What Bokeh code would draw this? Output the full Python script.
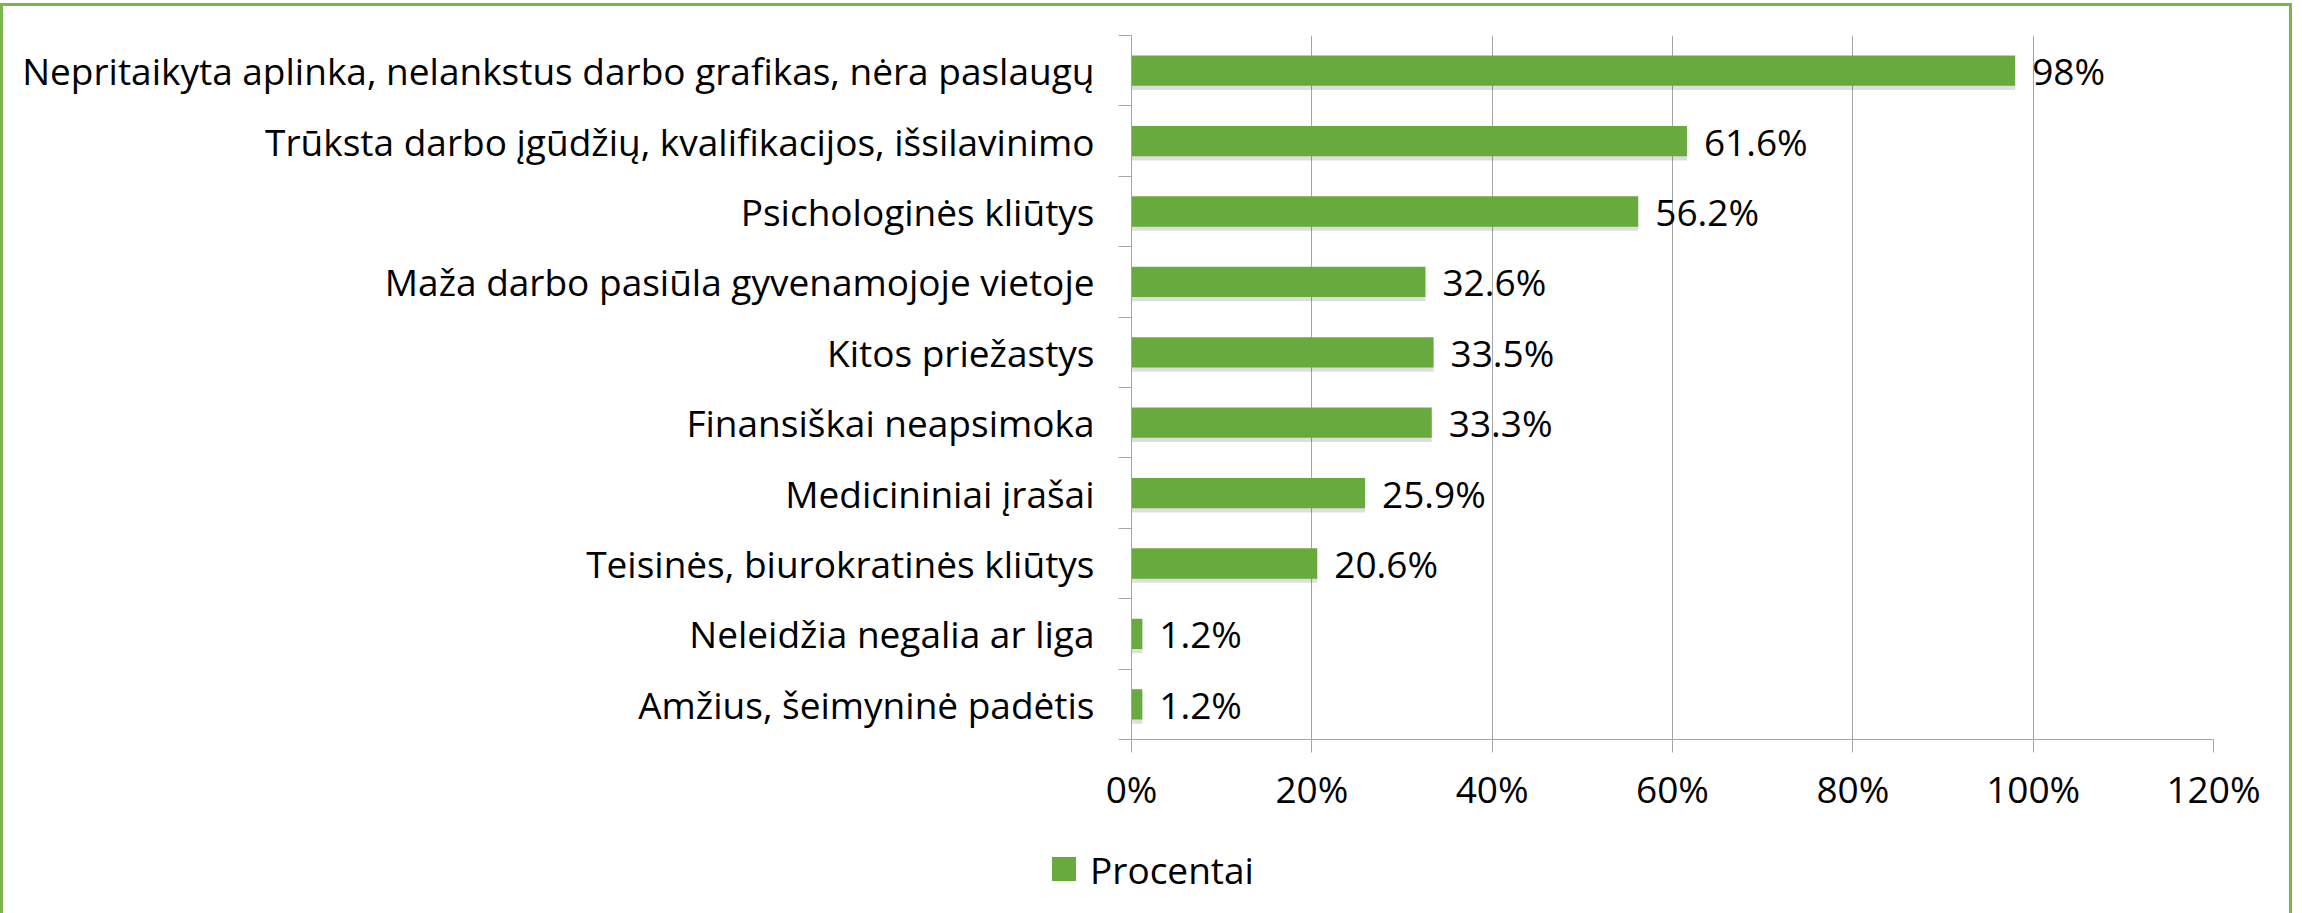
from bokeh.plotting import figure
from bokeh.layouts import column
from bokeh.models import (Range1d, FixedTicker, PrintfTickFormatter, ColumnDataSource, Dodge, Div)
from bokeh.core.properties import value
from bokeh.embed import file_html
from bokeh.resources import INLINE

categories = [
    "Nepritaikyta aplinka, nelankstus darbo grafikas, nėra paslaugų",
    "Trūksta darbo įgūdžių, kvalifikacijos, išsilavinimo",
    "Psichologinės kliūtys",
    "Maža darbo pasiūla gyvenamojoje vietoje",
    "Kitos priežastys",
    "Finansiškai neapsimoka",
    "Medicininiai įrašai",
    "Teisinės, biurokratinės kliūtys",
    "Neleidžia negalia ar liga",
    "Amžius, šeimyninė padėtis",
]
values = [98, 61.6, 56.2, 32.6, 33.5, 33.3, 25.9, 20.6, 1.2, 1.2]
x_ticks = [0, 20, 40, 60, 80, 100, 120]
series_name = "Procentai"

FONT = "Open Sans"
FS = "37px"
GRID = "#a6a6a6"
GREEN = "#69aa3f"
BORDER = "3px solid #7ab54e"
W = 2286
LEG_H = 87

n = len(categories)
ypos = [n - 0.5 - i for i in range(n)]
labels = [f"{v:g}%" for v in values]
src = ColumnDataSource(dict(y=ypos, v=values, lab=labels))

p = figure(width=W, height=820, x_range=Range1d(0, 120), y_range=Range1d(0, n),
           output_backend="svg", toolbar_location=None,
           min_border_left=1128, min_border_right=76, min_border_top=29, min_border_bottom=87)
p.outline_line_color = None
p.background_fill_color = "white"
p.border_fill_color = "white"

# soft shadow under bars
p.hbar(y={"field": "y", "transform": Dodge(value=-0.06)}, right="v", left=0,
       height=0.43, source=src, fill_color="black", fill_alpha=0.13, line_color=None)

bars = p.hbar(y="y", right="v", left=0, height=0.43, source=src,
              fill_color=GREEN, line_color=None)

p.text(x="v", y="y", text="lab", source=src, x_offset=17, text_baseline="middle",
       text_align="left", text_font=value(FONT), text_font_size=FS, text_color="black")

# x axis
p.xaxis.ticker = FixedTicker(ticks=x_ticks)
p.xaxis.formatter = PrintfTickFormatter(format="%d%%")
p.xaxis.axis_line_color = GRID
p.xaxis.major_tick_line_color = GRID
p.xaxis.major_tick_out = 13
p.xaxis.major_tick_in = 0
p.xaxis.minor_tick_line_color = None
p.xaxis.major_label_text_font = FONT
p.xaxis.major_label_text_font_size = FS
p.xaxis.major_label_text_color = "black"
p.xaxis.major_label_standoff = 10
p.xgrid.ticker = FixedTicker(ticks=x_ticks)
p.xgrid.grid_line_color = GRID
p.ygrid.visible = False

# y axis
p.yaxis.ticker = FixedTicker(ticks=ypos, minor_ticks=list(range(n + 1)))
p.yaxis.major_label_overrides = {y: c for y, c in zip(ypos, categories)}
p.yaxis.axis_line_color = GRID
p.yaxis.major_tick_line_color = None
p.yaxis.major_tick_out = 0
p.yaxis.major_tick_in = 0
p.yaxis.minor_tick_line_color = GRID
p.yaxis.minor_tick_out = 13
p.yaxis.minor_tick_in = 0
p.yaxis.major_label_text_font = FONT
p.yaxis.major_label_text_font_size = FS
p.yaxis.major_label_text_color = "black"
p.yaxis.major_label_standoff = 24

# legend strip below the chart
legend_html = (
    f'<div style="display:flex;align-items:center;height:{LEG_H - 1}px;margin-left:1049px;">'
    f'<span style="display:inline-block;width:24px;height:24px;background:{GREEN};'
    f'margin-right:14px;"></span>'
    f'<span style="font-family:\'{FONT}\';font-size:{FS};color:black;line-height:1;">'
    f'{series_name}</span></div>'
)
leg = Div(text=legend_html, width=W, height=LEG_H, styles={"margin": "0", "padding": "0"})

layout = column(p, leg, spacing=0,
                styles={"border-top": BORDER, "border-left": BORDER, "border-right": BORDER,
                        "margin-top": "3px"})

open("out.html", "w").write(file_html(layout, INLINE))
